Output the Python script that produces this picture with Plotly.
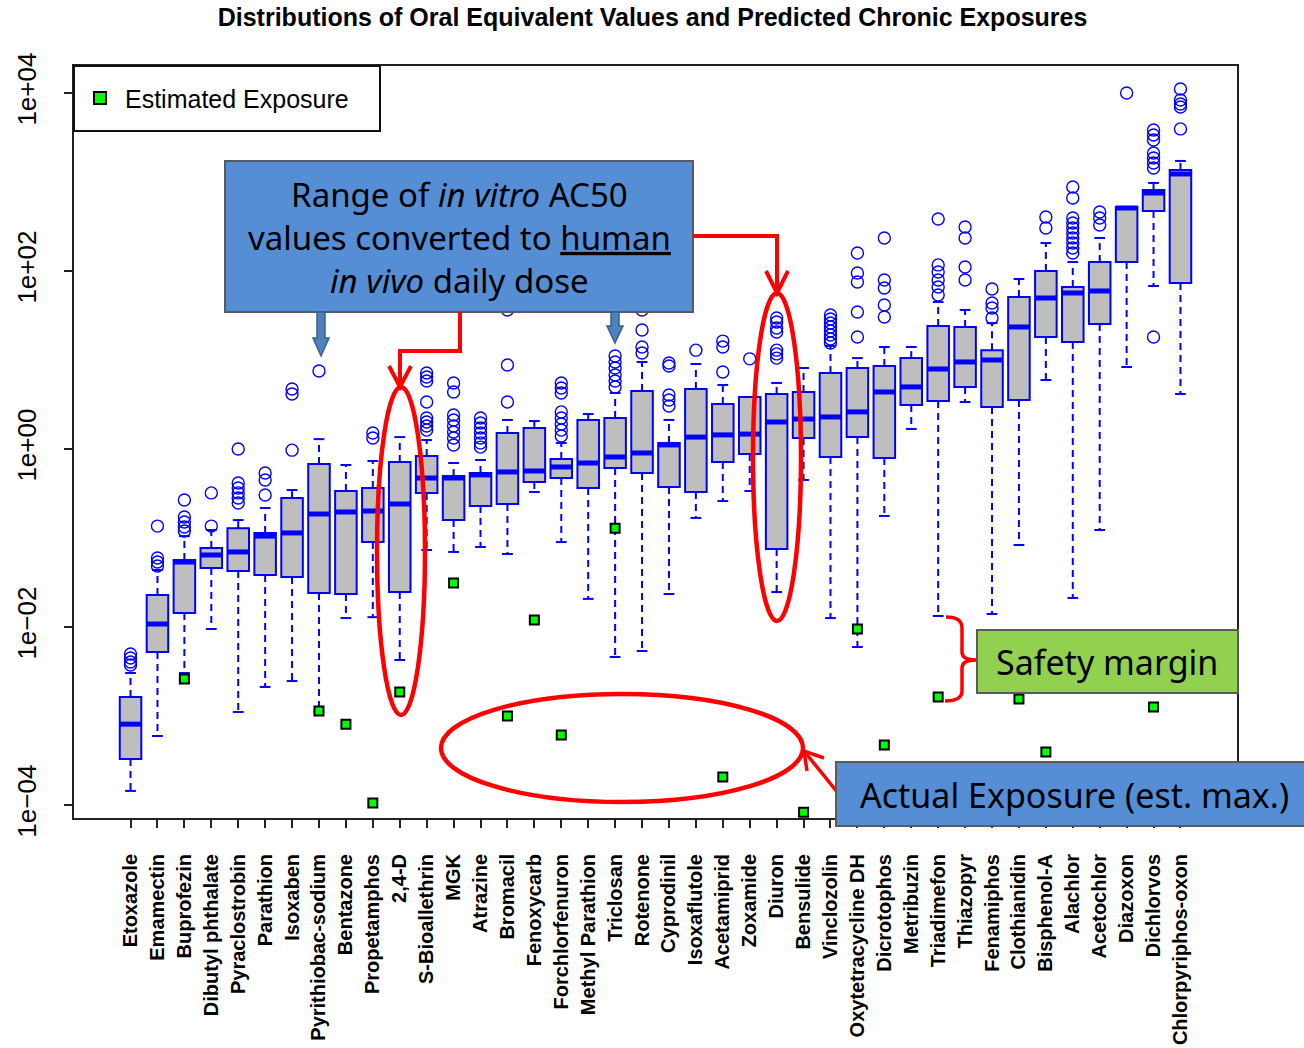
import plotly.graph_objects as go

# ---------------------------------------------------------------- data
categories = [
    "Etoxazole", "Emamectin", "Buprofezin", "Dibutyl phthalate", "Pyraclostrobin",
    "Parathion", "Isoxaben", "Pyrithiobac-sodium", "Bentazone", "Propetamphos",
    "2,4-D", "S-Bioallethrin", "MGK", "Atrazine", "Bromacil",
    "Fenoxycarb", "Forchlorfenuron", "Methyl Parathion", "Triclosan", "Rotenone",
    "Cyprodinil", "Isoxaflutole", "Acetamiprid", "Zoxamide", "Diuron",
    "Bensulide", "Vinclozolin", "Oxytetracycline DH", "Dicrotophos", "Metribuzin",
    "Triadimefon", "Thiazopyr", "Fenamiphos", "Clothianidin", "Bisphenol-A",
    "Alachlor", "Acetochlor", "Diazoxon", "Dichlorvos", "Chlorpyriphos-oxon",
]

# oral equivalent dose distributions (mg/kg/day)
whisker_low = [
    1.44e-4, 5.96e-4, 3.04e-3, 9.5e-3, 1.11e-3, 2.12e-3, 2.47e-3, 1.11e-3, 1.26e-2, 1.29e-2,
    4.26e-3, 7.33e-2, 6.97e-2, 7.92e-2, 6.61e-2, 0.329, 9.0e-2, 2.07e-2, 4.6e-3, 5.37e-3,
    2.35e-2, 0.168, 0.26, 0.337, 2.47e-2, 0.449, 1.26e-2, 5.96e-3, 0.177, 1.68,
    1.33e-2, 3.37, 1.4e-2, 8.34e-2, 5.96, 2.12e-2, 0.123, 8.34, 67.8, 4.15,
]
q1 = [
    3.29e-4, 5.24e-3, 1.44e-2, 4.6e-2, 4.26e-2, 3.84e-2, 3.65e-2, 2.41e-2, 2.35e-2, 9.0e-2,
    2.47e-2, 0.321, 0.159, 0.229, 0.241, 0.426, 0.472, 0.365, 0.612, 0.537,
    0.374, 0.329, 0.714, 0.878, 7.52e-2, 1.33, 0.813, 1.36, 0.792, 3.12,
    3.46, 4.98, 2.96, 3.55, 18.1, 15.9, 25.4, 126, 472, 73.3,
]
median = [
    8.1e-4, 1.08e-2, 5.37e-2, 6.44e-2, 6.97e-2, 0.105, 0.114, 0.186, 0.196, 0.201,
    0.241, 0.472, 0.472, 0.511, 0.552, 0.566, 0.628, 0.696, 0.813, 0.902,
    1.11, 1.36, 1.44, 1.47, 2.01, 2.17, 2.29, 2.61, 4.37, 4.98,
    7.92, 9.5, 10.0, 23.5, 49.7, 56.6, 59.6, 510, 752, 1230,
]
q3 = [
    1.63e-3, 2.29e-2, 5.66e-2, 7.73e-2, 0.129, 0.114, 0.281, 0.678, 0.337, 0.365,
    0.714, 0.834, 0.498, 0.537, 1.51, 1.72, 0.772, 2.12, 2.23, 4.49,
    1.17, 4.72, 3.2, 3.84, 4.15, 4.37, 7.14, 8.13, 8.56, 10.5,
    24.1, 23.5, 12.9, 51.0, 100, 66.1, 126, 524, 813, 1365,
]
whisker_high = [
    3.04e-3, 4.37e-2, 0.105, 0.123, 0.159, 0.217, 0.346, 1.29, 0.661, 0.733,
    1.36, 1.26, 0.696, 0.752, 2.12, 2.06, 1.17, 2.47, 4.26, 9.5,
    2.12, 9.02, 5.24, 3.84, 5.52, 8.13, 14.4, 10.5, 14.0, 14.0,
    44.9, 36.5, 26.0, 81.3, 206, 126, 235, 524, 975, 1722,
]
outliers = [
    [4.98e-3, 4.49e-3, 4.05e-3, 3.74e-3],
    [0.136, 5.96e-2, 5.37e-2, 4.84e-2],
    [0.267, 0.172, 0.151, 0.133, 0.12],
    [0.321, 0.136],
    [1.0, 0.415, 0.365, 0.321, 0.281, 0.247],
    [0.537, 0.449, 0.304],
    [4.72, 4.15, 0.97],
    [7.52],
    [],
    [1.51, 1.33],
    [],
    [7.14, 6.44, 5.81, 3.37, 2.23, 2.01, 1.81, 1.63],
    [5.52, 4.37, 2.41, 2.12, 1.81, 1.55, 1.33, 1.11],
    [2.23, 1.96, 1.72, 1.51, 1.33, 1.17, 1.05],
    [36.5, 8.79, 3.37],
    [],
    [5.52, 4.84, 4.26, 2.61, 2.23, 1.91, 1.63, 1.40],
    [],
    [11.1, 9.5, 8.13, 6.78, 5.81, 4.98],
    [36.5, 21.7, 14.0, 12.0],
    [9.25, 8.56, 4.04, 3.55, 3.04],
    [12.9],
    [16.3, 14.0, 7.33],
    [10.3],
    [29.6, 26.7, 22.9, 20.6, 12.9, 11.7, 10.5],
    [],
    [32.0, 28.9, 26.0, 23.5, 21.2, 19.1, 17.2, 15.5],
    [159, 95, 75.2, 34.6, 18.1],
    [235, 79.2, 64.4, 41.5, 30.4],
    [],
    [384, 117, 97.5, 79.2, 66.1, 53.7],
    [312, 235, 111, 79.2],
    [62.8, 43.7, 38.4, 29.6],
    [],
    [404, 304],
    [879, 661, 394, 346, 304, 267, 235, 206, 181, 159],
    [460, 394, 329],
    [10000],
    [3840, 3370, 2965, 2118, 1862, 1633, 1436, 18.1],
    [11090, 8340, 7520, 6960, 3945],
]
# predicted chronic exposure (None = no estimate)
exposure = [
    None, None, 2.61e-3, None, None, None, None, 1.14e-3, 8.1e-4, 1.05e-4,
    1.86e-3, None, 3.12e-2, None, 1.0e-3, 1.2e-2, 6.12e-4, None, 0.129, None,
    None, None, 2.07e-4, None, None, 8.3e-5, None, 9.5e-3, 4.72e-4, None,
    1.63e-3, None, None, 1.55e-3, 3.94e-4, None, None, None, 1.26e-3, None,
]

y_tickvals = [1e-4, 1e-2, 1, 1e2, 1e4]
y_ticktext = ["1e\u221204", "1e\u221202", "1e+00", "1e+02", "1e+04"]

# ---------------------------------------------------------------- styling
BLUE = "#0000FF"
BOX_W = 0.8
CAP_W = 0.4
W, H = 1304, 1048
ML, MR, MT, MB = 74, 67, 66, 230
PW, PH = W - ML - MR, H - MT - MB

pos = list(range(1, len(categories) + 1))

fig = go.Figure()

# dashed whiskers
wx, wy = [], []
for i, p in enumerate(pos):
    wx += [p, p, None, p, p, None]
    wy += [q3[i], whisker_high[i], None, q1[i], whisker_low[i], None]
fig.add_trace(go.Scatter(x=wx, y=wy, mode="lines", hoverinfo="skip", showlegend=False,
                         line=dict(color=BLUE, width=2, dash="7px,5px")))

# whisker staples
sx, sy = [], []
for i, p in enumerate(pos):
    for v in (whisker_high[i], whisker_low[i]):
        sx += [p - CAP_W / 2, p + CAP_W / 2, None]
        sy += [v, v, None]
fig.add_trace(go.Scatter(x=sx, y=sy, mode="lines", hoverinfo="skip", showlegend=False,
                         line=dict(color=BLUE, width=2)))

# interquartile boxes
fig.add_trace(go.Box(x=pos, q1=q1, median=median, q3=q3, lowerfence=q1, upperfence=q3,
                     width=BOX_W, whiskerwidth=0, boxpoints=False, fillcolor="#BEBEBE",
                     line=dict(color=BLUE, width=2), showlegend=False, hoverinfo="skip"))

# heavy median bars
mx, my = [], []
for i, p in enumerate(pos):
    mx += [p - BOX_W / 2, p + BOX_W / 2, None]
    my += [median[i], median[i], None]
fig.add_trace(go.Scatter(x=mx, y=my, mode="lines", hoverinfo="skip", showlegend=False,
                         line=dict(color=BLUE, width=5)))

# outlying values
ox, oy = [], []
for p, vals in zip(pos, outliers):
    ox += [p] * len(vals)
    oy += vals
fig.add_trace(go.Scatter(x=ox, y=oy, mode="markers", showlegend=False,
                         marker=dict(symbol="circle-open", size=12, color=BLUE,
                                     line=dict(width=1.4, color=BLUE))))

# estimated exposures
ex = [p for p, v in zip(pos, exposure) if v is not None]
ey = [v for v in exposure if v is not None]
fig.add_trace(go.Scatter(x=ex, y=ey, mode="markers", name="Estimated Exposure", showlegend=False,
                         marker=dict(symbol="square", size=9, color="#00FF00",
                                     line=dict(width=2, color="black"))))

# ---------------------------------------------------------------- axes
fig.update_xaxes(range=[-1.1, 42.1], tickmode="array", tickvals=pos, ticktext=categories,
                 tickangle=-90, ticks="outside", ticklen=8, tickwidth=2, tickcolor="#222",
                 tickfont=dict(family="Liberation Sans, Arial", size=20, color="black", weight="bold"),
                 showline=True, linecolor="#222", linewidth=2, mirror=True, automargin=False,
                 showgrid=False, zeroline=False, ticklabelstandoff=18)
fig.update_yaxes(type="log", range=[-4.146, 4.303], tickmode="array", tickvals=y_tickvals,
                 ticktext=y_ticktext, tickangle=-90, ticks="outside", ticklen=8, tickwidth=2,
                 tickcolor="#222", tickfont=dict(family="Liberation Sans, Arial", size=26, color="black"),
                 showline=True, linecolor="#222", linewidth=2, mirror=True, automargin=False,
                 showgrid=False, zeroline=False, ticklabelstandoff=18)


# ---------------------------------------------------------------- callouts (pixel -> paper)
def fx(px):
    return (px - ML) / PW


def fy(py):
    return (MT + PH - py) / PH


def path(points, close=False):
    s = "M " + " L ".join(f"{fx(x):.5f},{fy(y):.5f}" for x, y in points)
    return s + (" Z" if close else "")


shapes = []
annos = []
RED = "#FF0000"

# legend
shapes.append(dict(type="rect", xref="paper", yref="paper", x0=fx(ML), x1=fx(380), y0=fy(131), y1=fy(MT),
                   fillcolor="white", line=dict(color="#111", width=2)))
shapes.append(dict(type="rect", xref="paper", yref="paper", x0=fx(94), x1=fx(106), y0=fy(104), y1=fy(92),
                   fillcolor="#00FF00", line=dict(color="black", width=2)))
annos.append(dict(xref="paper", yref="paper", x=fx(123), y=fy(99), xanchor="left", yanchor="middle",
                  text="Estimated Exposure", showarrow=False,
                  font=dict(family="Liberation Sans, Arial", size=25, color="black")))

# "Range of in vitro AC50 ..." callout
BOXBLUE = "#558ED5"
shapes.append(dict(type="rect", xref="paper", yref="paper", x0=fx(225), x1=fx(693), y0=fy(312), y1=fy(161),
                   fillcolor=BOXBLUE, line=dict(color="#5A5A5A", width=2)))
annos.append(dict(xref="paper", yref="paper", x=fx(459), y=fy(238), xanchor="center", yanchor="middle",
                  text="Range of <i>in vitro</i> AC50<br>values converted to <u>human</u><br><i>in vivo</i> daily dose",
                  showarrow=False, align="center",
                  font=dict(family="Noto Sans", size=33, color="black")))

# block arrows below the callout
ARROW_FILL = "#4F81BD"
for cx, ytip, yhead in ((321, 356, 338), (615, 343, 326)):
    pts = [(cx - 4, 312), (cx + 4, 312), (cx + 4, yhead), (cx + 8, yhead), (cx, ytip),
           (cx - 8, yhead), (cx - 4, yhead)]
    shapes.append(dict(type="path", xref="paper", yref="paper", path=path(pts, True),
                       fillcolor=ARROW_FILL, line=dict(color="#3B5E8C", width=1.5)))

# red connectors with open arrow heads
shapes.append(dict(type="path", xref="paper", yref="paper",
                   path=path([(460, 312), (460, 351), (400, 351), (400, 386)]),
                   line=dict(color=RED, width=4)))
shapes.append(dict(type="path", xref="paper", yref="paper",
                   path=path([(389, 366), (400, 387), (411, 366)]), line=dict(color=RED, width=4)))
shapes.append(dict(type="path", xref="paper", yref="paper",
                   path=path([(693, 236), (777, 236), (777, 291)]), line=dict(color=RED, width=4)))
shapes.append(dict(type="path", xref="paper", yref="paper",
                   path=path([(766, 271), (777, 293), (788, 271)]), line=dict(color=RED, width=4)))

# red ellipses
for x0, x1, y0, y1 in ((377, 425, 387, 715), (753, 801, 293, 621), (441, 803, 694, 802)):
    shapes.append(dict(type="circle", xref="paper", yref="paper", x0=fx(x0), x1=fx(x1),
                       y0=fy(y1), y1=fy(y0), line=dict(color=RED, width=4.5)))

# "Actual Exposure" callout with arrow
shapes.append(dict(type="path", xref="paper", yref="paper",
                   path=path([(838, 793), (804, 751)]), line=dict(color=RED, width=3.5)))
shapes.append(dict(type="path", xref="paper", yref="paper",
                   path=path([(824, 758), (804, 751), (807, 771)]), line=dict(color=RED, width=3.5)))
shapes.append(dict(type="rect", xref="paper", yref="paper", x0=fx(836), x1=fx(1306), y0=fy(826), y1=fy(762),
                   fillcolor=BOXBLUE, line=dict(color="#5A5A5A", width=2)))
annos.append(dict(xref="paper", yref="paper", x=fx(1074), y=fy(795), xanchor="center", yanchor="middle",
                  text="Actual Exposure (est. max.)", showarrow=False,
                  font=dict(family="Noto Sans", size=34, color="black")))

# safety-margin brace and label
brace = (f"M {fx(946):.5f},{fy(617):.5f} Q {fx(962):.5f},{fy(617):.5f} {fx(962):.5f},{fy(628):.5f} "
         f"L {fx(962):.5f},{fy(652):.5f} Q {fx(962):.5f},{fy(660):.5f} {fx(976):.5f},{fy(660):.5f} "
         f"Q {fx(962):.5f},{fy(660):.5f} {fx(962):.5f},{fy(668):.5f} "
         f"L {fx(962):.5f},{fy(691):.5f} Q {fx(962):.5f},{fy(701):.5f} {fx(945):.5f},{fy(701):.5f}")
shapes.append(dict(type="path", xref="paper", yref="paper", path=brace, line=dict(color=RED, width=3.5)))
shapes.append(dict(type="rect", xref="paper", yref="paper", x0=fx(977), x1=fx(1238), y0=fy(693), y1=fy(630),
                   fillcolor="#92D050", line=dict(color="#5A5A5A", width=2)))
annos.append(dict(xref="paper", yref="paper", x=fx(1107), y=fy(662), xanchor="center", yanchor="middle",
                  text="Safety margin", showarrow=False,
                  font=dict(family="Noto Sans", size=34, color="black")))

fig.update_layout(
    width=W, height=H,
    margin=dict(l=ML, r=MR, t=MT, b=MB),
    paper_bgcolor="white", plot_bgcolor="white",
    title=dict(text="Distributions of Oral Equivalent Values and Predicted Chronic Exposures",
               x=fx(656), xanchor="center", y=1 - 17 / H, yanchor="middle",
               font=dict(family="Liberation Sans, Arial", size=25, color="black", weight="bold")),
    shapes=shapes, annotations=annos, showlegend=False,
)

fig.write_html("out.html")
